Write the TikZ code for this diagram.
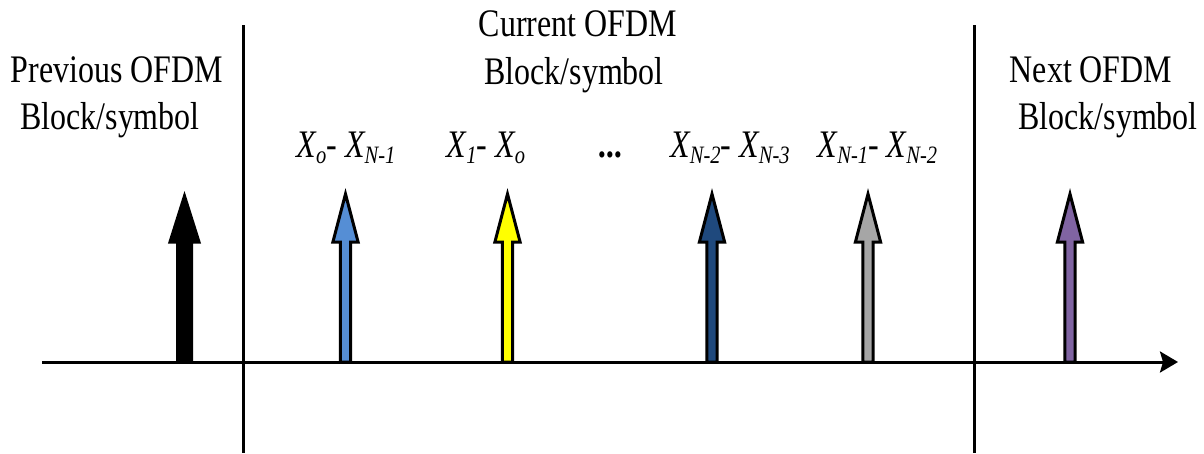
\documentclass[tikz,border=0pt]{standalone}
\usepackage{fontspec}
\setmainfont{Liberation Serif}[FakeStretch=0.82]
\usetikzlibrary{arrows.meta}
\definecolor{cblue}{HTML}{558ED5}
\definecolor{cyellow}{HTML}{FFFF00}
\definecolor{cnavy}{HTML}{1F497D}
\definecolor{cgray}{HTML}{A6A6A6}
\definecolor{cpurple}{HTML}{8064A2}
\newcommand\sbs[1]{\raisebox{-6pt}{\fontsize{25}{25}\selectfont #1}}
\tikzset{
  txt/.style={inner sep=0pt, anchor=base, font=\fontsize{39}{47}\selectfont},
  lbl/.style={txt, font=\fontsize{39}{47}\selectfont\itshape},
  rule/.style={draw=black, line width=3pt},
  pics/spike/.style n args={4}{code={
    \filldraw[fill=#1, draw=black, line width=3pt, line join=miter]
      (-#2,0) -- (-#2,-120) -- (-#3,-120) -- (0,-#4) -- (#3,-120) -- (#2,-120) -- (#2,0) -- cycle;
  }}
}
\begin{document}
\begin{tikzpicture}[x=1pt,y=-1pt]
\useasboundingbox (0,0) rectangle (1204,453);
% separators
\coordinate (s1t) at (243,25); \coordinate (s1b) at (243,453);
\coordinate (s2t) at (974,25); \coordinate (s2b) at (974,453);
\draw[rule] (s1t) -- (s1b);
\draw[rule] (s2t) -- (s2b);
% spikes
\pic (p0) at (184.5,362) {spike={black}{7}{14.5}{166}};
\pic (p1) at (345.5,362) {spike={cblue}{5.2}{12.6}{168}};
\pic (p2) at (507.5,362) {spike={cyellow}{5.2}{12.6}{168}};
\pic (p3) at (712,362) {spike={cnavy}{5.2}{12.6}{168}};
\pic (p4) at (868,362) {spike={cgray}{5.2}{12.6}{168}};
\pic (p5) at (1070,362) {spike={cpurple}{5.2}{12.6}{168}};
% axis
\coordinate (axL) at (42,362);
\coordinate (axR) at (1178,362);
\draw[rule, -{Stealth[length=18pt,width=21pt,inset=3pt]}] (axL) -- (axR);
% titles
\node[txt] (prev1) at (117,82) {Previous OFDM};
\node[txt] (prev2) at (110,129) {Block/symbol};
\node[txt] (cur1) at (578,36) {Current OFDM};
\node[txt] (cur2) at (574,84) {Block/symbol};
\node[txt] (next1) at (1091,82) {Next OFDM};
\node[txt] (next2) at (1108,129) {Block/symbol};
% labels
\node[lbl] (l1) at (346,157) {X\sbs{o}- X\sbs{N-1}};
\node[lbl] (l2) at (486,157) {X\sbs{1}- X\sbs{o}};
\node[lbl] (l3) at (611,157) {\bfseries ...};
\node[lbl] (l4) at (730,157) {X\sbs{N-2}- X\sbs{N-3}};
\node[lbl] (l5) at (877.5,157) {X\sbs{N-1}- X\sbs{N-2}};
\end{tikzpicture}
\end{document}
